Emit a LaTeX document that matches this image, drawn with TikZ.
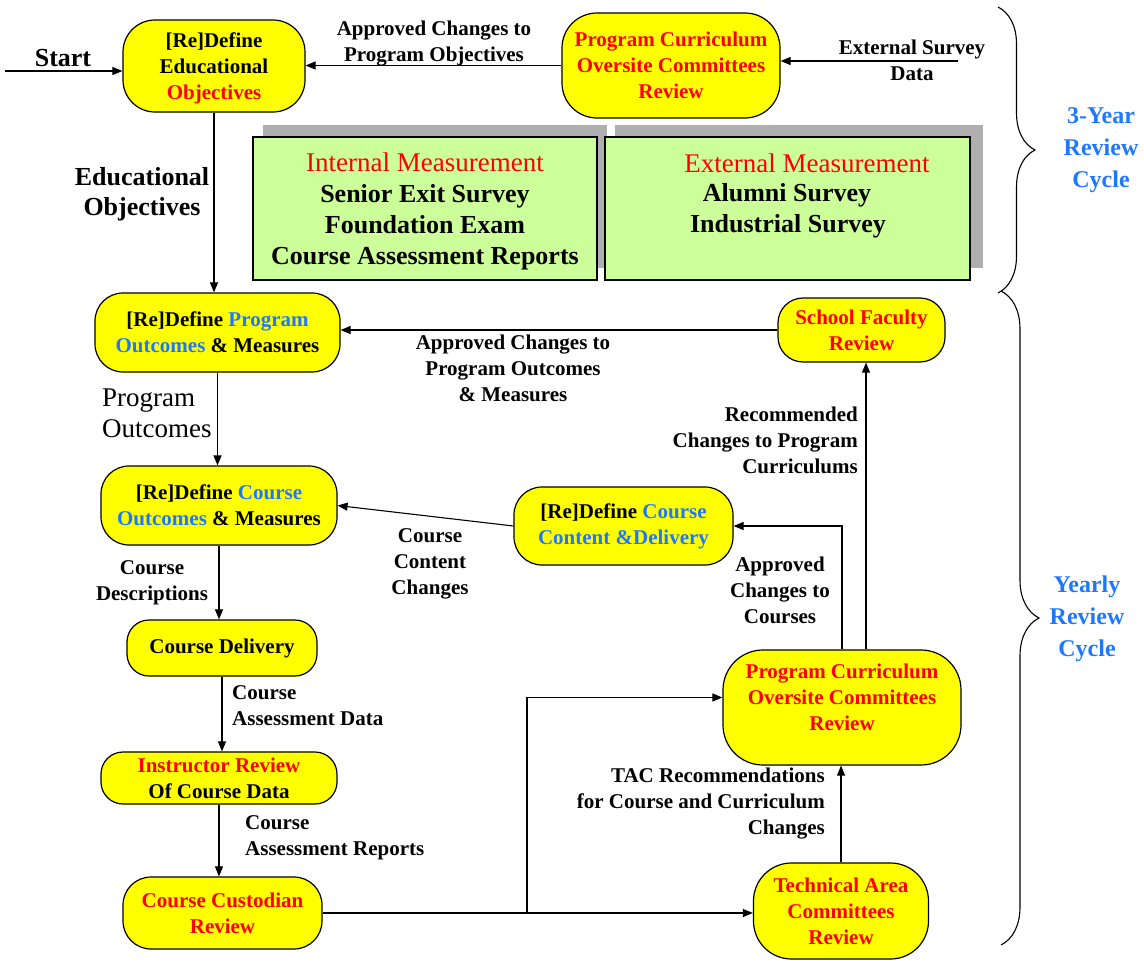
\documentclass[tikz,border=0pt]{standalone}
\usepackage{fontspec}
\setmainfont{Liberation Serif}
\usetikzlibrary{arrows.meta,decorations.pathreplacing,calc}
\definecolor{myblue}{RGB}{30,120,255}
\definecolor{boxyellow}{RGB}{255,255,0}
\definecolor{boxgreen}{RGB}{204,255,153}
\definecolor{shadowgray}{RGB}{175,175,175}
\begin{document}
\begin{tikzpicture}[x=1pt,y=-1pt,
  proc/.style={draw=black, line width=1.2pt, fill=boxyellow, rounded corners=#1, align=center, inner sep=0pt, font=\fontsize{21}{26}\selectfont\bfseries},
  proc/.default=25pt,
  gbox/.style={draw=black, line width=1.2pt, fill=boxgreen, align=center, inner sep=0pt, font=\fontsize{26}{31}\selectfont\bfseries},
  gtext/.style={inner sep=0pt, font=\fontsize{26}{31}\selectfont\bfseries},
  redreg/.style={font=\fontsize{27}{31}\selectfont\mdseries},
  lbl/.style={align=center, inner sep=0pt, font=\fontsize{21}{26}\selectfont\bfseries},
  biglbl/.style={align=center, inner sep=0pt, font=\fontsize{26}{30}\selectfont\bfseries},
  cyc/.style={align=center, inner sep=0pt, text=myblue, font=\fontsize{24}{32}\selectfont\bfseries},
  arr/.style={-{Triangle[length=10pt,width=8pt]}, line width=1.1pt},
  brc/.style={decorate, decoration={brace, amplitude=#1}, line width=1.1pt}
]
\useasboundingbox (0,0) rectangle (1144,961);

% green measurement boxes with shadows
\fill[shadowgray] (263,125) rectangle (607,268);
\node[gbox, minimum width=344pt, minimum height=143pt, text depth=0pt] (IM) at (425,208.5)
  {{\fontsize{27}{31}\selectfont\mdseries\color{red}Internal Measurement}\\Senior Exit Survey\\Foundation Exam\\Course Assessment Reports};
\fill[shadowgray] (615,125) rectangle (983,268);
\node[gbox, minimum width=365pt, minimum height=143pt] (EM) at (787.5,208.5) {};
\node[gtext, redreg, text=red] (em1) at (807,163) {External Measurement};
\node[gtext] (em2) at (787,195) {Alumni Survey};
\node[gtext] (em3) at (788,226) {Industrial Survey};

% process nodes
\node[proc=32pt, minimum width=182pt, minimum height=92pt, text depth=0pt] (A) at (214,66)
  {[Re]Define\\Educational\\\textcolor{red}{Objectives}};
\node[proc=35pt, minimum width=218pt, minimum height=105pt, text=red] (B) at (671,65.5)
  {Program Curriculum\\Oversite Committees\\Review};
\node[proc=28pt, minimum width=245pt, minimum height=79pt] (C) at (217.5,332.5)
  {[Re]Define \textcolor{myblue}{Program}\\\textcolor{myblue}{Outcomes} \& Measures};
\node[proc=25pt, minimum width=167pt, minimum height=64pt, text=red] (D) at (861.5,330)
  {School Faculty\\Review};
\node[proc=28pt, minimum width=236pt, minimum height=79pt] (E) at (219,505.5)
  {[Re]Define \textcolor{myblue}{Course}\\\textcolor{myblue}{Outcomes} \& Measures};
\node[proc=28pt, minimum width=219pt, minimum height=78pt] (F) at (623.5,526)
  {[Re]Define \textcolor{myblue}{Course}\\\textcolor{myblue}{Content \&Delivery}};
\node[proc=22pt, minimum width=190pt, minimum height=56pt] (G) at (222,648)
  {Course Delivery};
\node[proc=22pt, minimum width=236pt, minimum height=52pt] (H) at (219,778)
  {\textcolor{red}{Instructor Review}\\Of Course Data};
\node[proc=28pt, minimum width=199pt, minimum height=72pt, text=red] (I) at (222.5,913)
  {Course Custodian\\Review};
\node[proc=40pt, minimum width=238pt, minimum height=115pt, text=red, text depth=20pt] (J) at (842,707.5)
  {Program Curriculum\\Oversite Committees\\Review};
\node[proc=38pt, minimum width=175pt, minimum height=96pt, text=red] (K) at (841,911)
  {Technical Area\\Committees\\Review};

% connectors
\coordinate (st) at (5,71);
\draw[arr] (st) -- (st -| A.west);
\draw[arr] (B.west) -- (B.west -| A.east);
\coordinate (ext) at (958,61);
\draw[arr] (ext) -- (ext -| B.east);
\draw[arr] (A.south) -- (A.south |- C.north);
\draw[arr] (D.west) -- (D.west -| C.east);
\draw[arr] (C.south) -- (C.south |- E.north);
\draw[arr] (F.west) -- (E.east);
\draw[arr] (E.south) -- (E.south |- G.north);
\draw[arr] (G.south) -- (G.south |- H.north);
\draw[arr] (H.south) -- (H.south |- I.north);
\draw[arr] (I.east) -- (I.east -| K.west);
\coordinate (br) at (527,913);
\draw[arr] (br) |- ([yshift=10pt]J.west);
\draw[arr] (K.north) -- (K.north |- J.south);
\draw[arr] (J.north) |- (F.east);
\draw[arr] ([xshift=24pt]J.north) -- ([xshift=24pt]J.north |- D.south);

% labels
\node[biglbl] (lstart) at (63,58) {Start};
\node[lbl] (l1) at (434,44) {Approved Changes to\\Program Objectives};
\node[lbl] (l2) at (912,60) {External Survey\\Data};
\node[biglbl] (l3) at (142,194) {Educational\\Objectives};
\node[lbl] (l4) at (513,368) {Approved Changes to\\Program Outcomes\\\& Measures};
\node[align=left, anchor=west, inner sep=0pt, font=\fontsize{27}{31}\selectfont] (l5) at (102,413) {Program\\Outcomes};
\node[lbl] (l6) at (152,583) {Course\\Descriptions};
\node[lbl] (l7) at (430,564) {Course\\Content\\Changes};
\node[lbl] (l8) at (780,590) {Approved\\Changes to\\Courses};
\node[lbl, align=right, anchor=east] (l9) at (858,440) {Recommended\\Changes to Program\\Curriculums};
\node[lbl, align=left, anchor=west] (l10) at (232,706) {Course\\Assessment Data};
\node[lbl, align=left, anchor=west] (l11) at (245,838) {Course\\Assessment Reports};
\node[lbl, align=right, anchor=east] (l12) at (825,804) {TAC Recommendations\\for Course and Curriculum\\Changes};

% braces
\draw[brc=37pt] (998,7) -- (998,293);
\draw[brc=38pt] (1001,291) -- (1001,945);
\node[cyc] (c1) at (1101,150) {3-Year\\Review\\Cycle};
\node[cyc] (c2) at (1087,619) {Yearly\\Review\\Cycle};
\end{tikzpicture}
\end{document}
